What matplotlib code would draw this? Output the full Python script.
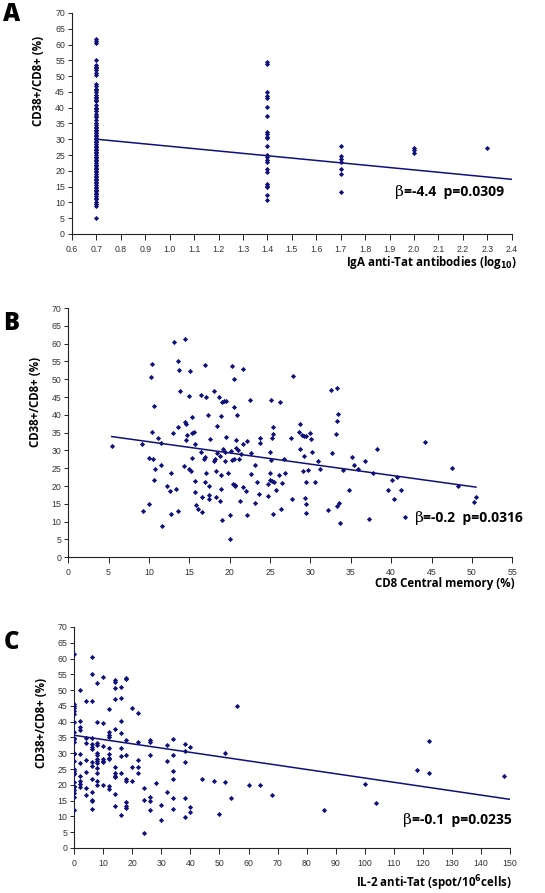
import matplotlib.pyplot as plt
from matplotlib.ticker import FormatStrFormatter

# panel A: CD38+/CD8+ by IgA anti-Tat level (log10)
a_y_07 = [5, 8.8, 9.5, 10.2, 11, 11.5, 12, 12.5, 13, 13.5, 14, 14.5, 15, 15.5, 16, 16.5,
          17, 17.5, 18, 18.5, 19, 19.5, 20, 20.5, 21, 21.5, 22, 22.5, 23, 23.5, 24, 24.5,
          25, 25.5, 26, 26.5, 27, 27.5, 28, 28.5, 29, 29.5, 30, 30.5, 31, 31.5, 32, 32.5,
          33, 33.5, 34, 34.5, 35, 36, 37, 37.5, 38, 39, 39.5, 40, 41, 42, 42.5, 43, 43.5,
          44, 45, 45.5, 46, 47, 47.5, 50.5, 51, 52, 52.5, 53, 53.5, 55.2, 60.5, 61.2, 61.7]
a_y_14 = [54.4, 53.9, 45.0, 43.6, 43.1, 40.2, 37.5, 32.4, 31.6, 30.8, 30.3, 27.9, 24.9,
          24.4, 23.5, 22.8, 20.5, 19.7, 15.7, 15.2, 14.8, 12.3, 10.6]
a_y_17 = [27.8, 24.6, 23.6, 22.9, 20.6, 18.9, 13.4]
a_y_20 = [27.3, 26.6, 25.7]
a_y_23 = [27.1]
a_levels = [0.7, 1.4, 1.7, 2.0, 2.3]
a_fit_x = [0.702, 2.4]
a_fit_y = [30.0, 17.3]

# panel B: CD8 central memory (%)
b_x = [5.4, 9.1, 9.3, 10.0, 10.0, 10.3, 10.4, 10.4, 10.5, 10.6, 10.6, 10.7, 11.1, 11.5,
       11.6, 11.5, 12.3, 12.65, 12.7, 12.8, 13.0, 13.1, 13.4, 13.6, 13.6, 13.6, 13.7, 13.8,
       14.3, 14.5, 14.5, 14.6, 14.6, 14.7, 15.0, 15.0, 15.1, 15.2, 15.3, 15.4, 15.4, 15.6,
       15.7, 15.7, 15.7, 15.8, 16.1, 16.4, 16.5, 16.6, 16.6, 16.8, 16.9, 17.0, 17.1, 17.0,
       17.1, 17.3, 17.4, 17.4, 17.5, 17.6, 18.1, 18.1, 18.2, 18.3, 18.3, 18.4, 18.4, 18.7,
       18.8, 18.8, 18.9, 18.9, 18.9, 19.1, 19.1, 19.2, 19.3, 19.4, 19.4, 19.5, 19.6, 19.8,
       20.0, 20.1, 20.2, 20.3, 20.3, 20.4, 20.5, 20.6, 20.6, 20.7, 20.7, 20.8, 20.8, 20.9,
       21.05, 21.2, 21.3, 21.4, 21.6, 21.7, 21.7, 22.0, 22.1, 22.2, 22.5, 22.6, 22.7, 23.1,
       23.2, 23.4, 23.6, 23.7, 23.7, 24.7, 24.8, 24.98, 25.0, 25.0, 25.1, 25.1, 25.2, 25.3,
       25.4, 25.4, 25.4, 25.5, 25.7, 26.1, 26.2, 26.3, 26.5, 26.7, 26.8, 27.6, 27.7, 27.9,
       28.6, 28.7, 28.7, 29.0, 29.1, 29.2, 29.2, 29.3, 29.4, 29.4, 29.4, 29.45, 29.7, 29.9,
       30.1, 30.2, 30.6, 30.9, 31.2, 32.2, 32.5, 32.7, 33.2, 33.3, 33.3, 33.4, 33.3, 33.6,
       33.7, 34.0, 34.8, 35.1, 35.4, 35.9, 36.8, 37.3, 37.8, 38.2, 39.6, 40.1, 40.3, 40.7,
       41.2, 41.7, 44.2, 47.5, 48.3, 50.2, 50.5]
b_y = [31.2, 31.9, 13.0, 14.9, 27.8, 50.7, 54.3, 35.2, 27.7, 42.5, 21.8, 24.8, 33.6, 32.1,
       8.8, 25.9, 19.9, 18.6, 12.1, 23.8, 35.0, 60.4, 19.1, 55.2, 13.0, 36.5, 52.5, 46.7,
       25.5, 37.9, 61.4, 37.3, 32.8, 34.3, 24.8, 45.3, 52.3, 24.3, 28.0, 39.4, 34.9, 35.2,
       31.9, 21.4, 18.2, 14.6, 13.5, 29.7, 45.5, 12.8, 16.8, 27.7, 28.2, 53.9, 23.7, 21.1,
       45.0, 40.1, 17.5, 16.3, 19.9, 33.1, 26.9, 46.7, 27.5, 24.1, 16.9, 36.8, 29.2, 45.0,
       15.7, 28.5, 19.3, 23.0, 39.6, 43.5, 10.6, 30.3, 44.0, 27.1, 29.5, 33.9, 44.0, 23.8,
       11.9, 5.0, 29.8, 53.6, 27.2, 20.6, 27.7, 42.2, 50.0, 20.3, 19.9, 33.0, 30.6, 39.9,
       30.1, 27.6, 15.7, 29.1, 31.7, 53.0, 19.6, 18.7, 32.6, 12.0, 44.2, 29.2, 23.5, 15.2,
       25.9, 21.1, 17.7, 33.6, 32.2, 20.5, 17.1, 21.8, 23.8, 29.7, 27.3, 44.2, 21.5, 33.5,
       34.5, 36.7, 12.2, 21.0, 18.9, 23.1, 43.5, 13.5, 20.9, 27.5, 23.8, 33.6, 16.3, 51.0,
       35.2, 37.5, 30.5, 34.3, 24.2, 28.5, 34.2, 16.7, 21.2, 15.0, 12.4, 34.0, 24.5, 35.0,
       33.2, 29.6, 21.0, 27.0, 24.9, 13.3, 47.1, 29.4, 34.7, 47.5, 38.2, 40.3, 14.4, 15.3,
       9.7, 24.6, 19.0, 28.3, 25.9, 24.8, 27.1, 10.7, 23.6, 30.3, 18.8, 21.8, 16.4, 22.5,
       19.0, 11.4, 32.5, 25.1, 20.0, 15.6, 17.0]
b_fit_x = [5.4, 50.5]
b_fit_y = [33.9, 19.7]

# panel C: IL-2 anti-Tat (spot/10^6 cells)
c_groups = {
    0: [61.4, 45.5, 45.0, 44.3, 43.4, 42.4, 39.8, 36.8, 34.9, 34.4, 33.5, 30.2, 29.9, 27.7,
        25.0, 24.4, 23.9, 23.3, 20.9, 19.7, 19.3, 18.3, 17.4, 16.3, 11.9],
    2: [50.1, 40.2, 38.3, 37.5, 29.7, 26.9, 22.9, 21.1, 20.3, 19.2],
    4: [46.7, 34.9, 33.4, 27.8, 24.2, 18.9, 16.7],
    6: [60.5, 55.2, 46.6, 34.9, 32.8, 32.1, 31.3, 27.3, 26.0, 21.8, 17.6, 15.3, 14.9, 12.3],
    8: [52.3, 40.0, 33.1, 32.6, 30.2, 29.4, 28.2, 27.5, 26.9, 25.2, 23.9, 21.3, 20.0],
    10: [54.2, 39.5, 32.3, 28.1, 27.6, 27.1, 19.9],
    12: [43.9, 36.8, 35.8, 35.1, 31.8, 29.9, 28.6, 28.2, 19.6, 18.8],
    14: [53.1, 52.5, 50.8, 47.2, 37.6, 25.8, 23.7, 22.8, 22.4, 17.2, 13.2],
    16: [50.9, 47.4, 40.2, 36.5, 31.6, 29.2, 23.8, 10.6],
    18: [53.9, 53.5, 34.3, 29.4, 21.8, 21.1, 14.6, 13.4, 12.7],
    20: [44.3, 25.8, 21.3],
    22: [42.6, 33.5, 28.0, 25.5, 23.9],
    24: [18.9, 15.3, 4.9],
    26: [34.2, 33.6, 29.6, 16.3, 14.9, 12.1],
    28: [20.5],
    30: [13.5, 8.8],
    32: [32.5, 27.7, 17.7],
    34: [34.4, 29.3, 24.5, 21.7, 15.7, 12.2],
    38: [32.8, 30.7, 27.3, 15.7, 9.7],
    40: [31.9, 12.9, 11.5],
    44: [21.8], 48: [21.1], 50: [10.7], 52: [30.2, 20.8], 54: [15.7], 56: [45.1],
    60: [19.9], 64: [19.9], 68: [16.7], 86: [12.0], 100: [20.3], 104: [14.4],
    118: [24.8], 122: [33.9, 23.9], 148: [22.8],
}
c_fit_x = [0, 150]
c_fit_y = [35.7, 15.4]

navy = '#10107a'
tick_font = {'family': 'Liberation Sans', 'size': 6.3, 'color': '#333333'}

fig = plt.figure(figsize=(5.45, 8.93), dpi=100)

def style(ax, xlim, xticks, fmt):
    ax.set_xlim(*xlim)
    ax.set_ylim(0, 70)
    ax.set_xticks(xticks)
    ax.set_yticks(range(0, 71, 5))
    ax.xaxis.set_major_formatter(FormatStrFormatter(fmt))
    for s in ['top', 'right']:
        ax.spines[s].set_visible(False)
    for s in ['left', 'bottom']:
        ax.spines[s].set_linewidth(0.8)
        ax.spines[s].set_color('#222222')
    ax.tick_params(axis='y', length=3, width=0.7, pad=2, colors='#222222')
    ax.tick_params(axis='x', length=4, width=0.7, pad=4, colors='#222222')
    for lab in ax.get_xticklabels() + ax.get_yticklabels():
        lab.set_fontfamily(tick_font['family'])
        lab.set_fontsize(tick_font['size'])
        lab.set_color(tick_font['color'])

def stat(ax, x, y, rest):
    t = ax.text(x, y, 'β', transform=ax.transAxes, fontsize=11,
                family='DejaVu Serif', va='baseline', ha='left')
    ax.annotate(rest, xy=(1, 0), xycoords=t, va='bottom', ha='left',
                fontsize=10, fontweight='bold', family='Open Sans')

mk = dict(marker='D', s=7, color=navy, linewidths=0, zorder=3)

# A
axA = fig.add_axes([0.132, 0.738, 0.807, 0.2475])
for lvl, vals in zip(a_levels, [a_y_07, a_y_14, a_y_17, a_y_20, a_y_23]):
    axA.scatter([lvl] * len(vals), vals, **mk)
axA.plot(a_fit_x, a_fit_y, color=navy, lw=1.1)
axA.set_xticks([0.6 + 0.1 * i for i in range(19)])
style(axA, (0.6, 2.4), [round(0.6 + 0.1 * i, 1) for i in range(19)], '%.1f')
stat(axA, 0.734, 0.17, '=-4.4  p=0.0309')

# B
axB = fig.add_axes([0.125, 0.376, 0.815, 0.279])
axB.scatter(b_x, b_y, **mk)
axB.plot(b_fit_x, b_fit_y, color=navy, lw=1.1)
style(axB, (0, 55), range(0, 56, 5), '%d')
stat(axB, 0.78, 0.14, '=-0.2  p=0.0316')

# C
axC = fig.add_axes([0.136, 0.0504, 0.800, 0.2475])
for xv, vals in c_groups.items():
    axC.scatter([xv] * len(vals), vals, **mk)
axC.plot(c_fit_x, c_fit_y, color=navy, lw=1.1)
style(axC, (0, 150), range(0, 151, 10), '%d')
stat(axC, 0.755, 0.11, '=-0.1  p=0.0235')

# axis labels
lab = dict(fontsize=8.3, fontweight='bold', family='Open Sans')
fig.text(0.949, 0.7055, 'IgA anti-Tat antibodies (log$_{\\mathbf{10}}$)', ha='right', va='center', **lab)
fig.text(0.945, 0.347, 'CD8 Central memory (%)', ha='right', va='center', **lab)
fig.text(0.939, 0.0112, 'IL-2 anti-Tat (spot/10$^{\\mathbf{6}}$cells)', ha='right', va='center', **lab)
for xp, yp in [(0.070, 0.909), (0.066, 0.55), (0.077, 0.190)]:
    fig.text(xp, yp, 'CD38+/CD8+ (%)', rotation=90, ha='center', va='center', **lab)

# panel letters
for yp, letter in [(0.984, 'A'), (0.638, 'B'), (0.28, 'C')]:
    fig.text(0.006, yp, letter, fontsize=17, fontweight='heavy', family='Open Sans',
             ha='left', va='center')

fig.savefig('out.png', dpi=100)
